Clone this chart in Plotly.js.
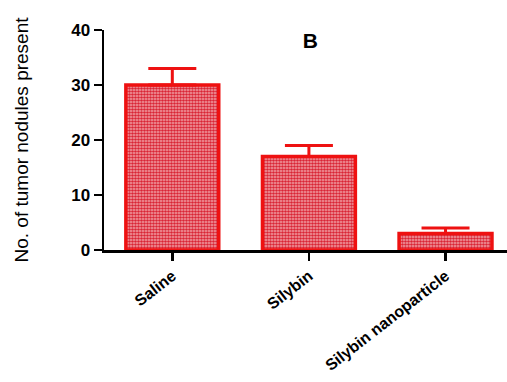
<!DOCTYPE html>
<html>
<head>
<meta charset="utf-8">
<script src="https://cdn.plot.ly/plotly-3.0.1.min.js"></script>
<style>html,body{margin:0;padding:0;background:#fff;}#chart{width:507px;height:382px;}</style>
</head>
<body>
<div id="chart"></div>
<script>
const categories = ["Saline", "Silybin", "Silybin nanoparticle"];
const nodules = [30, 17, 3];
const errorUp = [3, 2, 1];
const errorDown = [0, 0, 0];
const yTicks = [0, 10, 20, 30, 40];

const trace = {
  type: "bar",
  x: categories,
  y: nodules,
  width: 0.68,
  marker: {
    color: "#ec9096",
    line: {color: "#ee1111", width: 3.5},
    pattern: {shape: ".", fgcolor: "#d92535", bgcolor: "#f3a6ab", size: 3, solidity: 0.6}
  },
  error_y: {
    type: "data", symmetric: false, array: errorUp, arrayminus: errorDown,
    color: "#ee1111", thickness: 3, width: 24
  },
  hoverinfo: "none"
};

const layout = {
  width: 507, height: 382,
  margin: {l: 104, r: 0, t: 30, b: 132},
  paper_bgcolor: "#fff", plot_bgcolor: "#fff",
  showlegend: false,
  font: {family: "Liberation Sans, Arial, sans-serif", color: "#000"},
  title: {text: "<b>B</b>", font: {size: 21, color: "#000"}, x: 0.612, xanchor: "center", y: 0.893, yanchor: "middle"},
  xaxis: {
    type: "category",
    range: [-0.5, 2.45],
    showline: true, linecolor: "#000", linewidth: 2.5,
    ticks: "outside", ticklen: 8, tickwidth: 2.5, tickcolor: "#000",
    tickangle: -38,
    tickfont: {size: 16, family: "Liberation Sans, Arial, sans-serif", weight: "bold", color: "#000"},
    showgrid: false, zeroline: false, fixedrange: true
  },
  yaxis: {
    range: [0, 40],
    tickvals: yTicks,
    showline: true, linecolor: "#000", linewidth: 2.5,
    ticks: "outside", ticklen: 8, tickwidth: 2.5, tickcolor: "#000",
    tickfont: {size: 17, family: "Liberation Sans, Arial, sans-serif", weight: "bold", color: "#000"},
    title: {text: "No. of tumor nodules present", font: {size: 19, family: "Liberation Sans, Arial, sans-serif", color: "#000"}, standoff: 38},
    showgrid: false, zeroline: false, fixedrange: true
  }
};

Plotly.newPlot("chart", [trace], layout, {displayModeBar: false, staticPlot: true});
</script>
</body>
</html>
